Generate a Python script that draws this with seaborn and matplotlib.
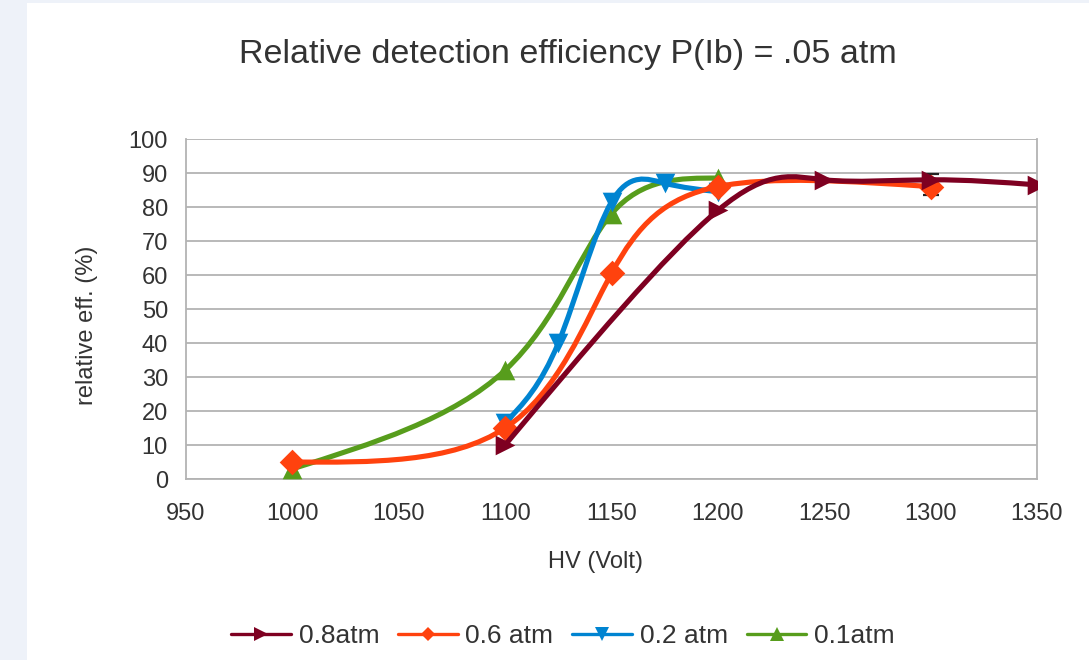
import numpy as np
import pandas as pd
import matplotlib
matplotlib.use("Agg")
import matplotlib.pyplot as plt
import seaborn as sns
from matplotlib.path import Path
from matplotlib.patches import PathPatch, Rectangle
from matplotlib.lines import Line2D

# ---- data ----
hv_08 = [1100, 1200, 1250, 1300, 1350]
eff_08 = [10, 79, 88, 88, 86.5]
hv_06 = [1000, 1100, 1150, 1200, 1300]
eff_06 = [5, 15, 60.5, 86, 86]
hv_02 = [1100, 1125, 1150, 1175, 1200]
eff_02 = [16.5, 40, 81.5, 87, 84.5]
hv_01 = [1000, 1100, 1150, 1200]
eff_01 = [3, 32, 78, 88.5]
err_x = [1300]
err_y = [86.5]
err_v = [3.1]

labels = ["0.8atm", "0.6 atm", "0.2 atm", "0.1atm"]
colors = ["#7E0021", "#FF420E", "#0084D1", "#579D1C"]
markers = [">", "D", "v", "^"]

title = "Relative detection efficiency P(Ib) = .05 atm"
xlabel = "HV (Volt)"
ylabel = "relative eff. (%)"
xticks = [950, 1000, 1050, 1100, 1150, 1200, 1250, 1300, 1350]
yticks = [0, 10, 20, 30, 40, 50, 60, 70, 80, 90, 100]

series = [(hv_08, eff_08), (hv_06, eff_06), (hv_02, eff_02), (hv_01, eff_01)]

sns.set_theme(style="white")
plt.rcParams["font.family"] = ["Liberation Sans", "DejaVu Sans"]
TXT = "#333333"
GRID = "#b3b3b3"


def natural_derivs(t, v):
    n = len(t)
    h = np.diff(t)
    A = np.zeros((n, n))
    b = np.zeros(n)
    A[0, 0] = 1
    A[-1, -1] = 1
    for i in range(1, n - 1):
        A[i, i - 1] = h[i - 1]
        A[i, i] = 2 * (h[i - 1] + h[i])
        A[i, i + 1] = h[i]
        b[i] = 6 * ((v[i + 1] - v[i]) / h[i] - (v[i] - v[i - 1]) / h[i - 1])
    M = np.linalg.solve(A, b)
    dl = np.zeros(n - 1)
    dr = np.zeros(n - 1)
    for i in range(n - 1):
        sl = (v[i + 1] - v[i]) / h[i]
        dl[i] = sl - h[i] * (2 * M[i] + M[i + 1]) / 6
        dr[i] = sl + h[i] * (M[i] + 2 * M[i + 1]) / 6
    return h, dl, dr


def spline_path(x, y):
    # parametric natural cubic spline (uniform parameter), as a Bezier path
    x = np.asarray(x, float)
    y = np.asarray(y, float)
    t = np.arange(len(x), dtype=float)
    h, dxl, dxr = natural_derivs(t, x)
    _, dyl, dyr = natural_derivs(t, y)
    verts = [(x[0], y[0])]
    codes = [Path.MOVETO]
    for i in range(len(x) - 1):
        verts += [(x[i] + h[i] / 3 * dxl[i], y[i] + h[i] / 3 * dyl[i]),
                  (x[i + 1] - h[i] / 3 * dxr[i], y[i + 1] - h[i] / 3 * dyr[i]),
                  (x[i + 1], y[i + 1])]
        codes += [Path.CURVE4] * 3
    return Path(verts, codes)


fig = plt.figure(figsize=(10.89, 6.6), dpi=100)
fig.patch.set_facecolor("white")
fig.patches.append(Rectangle((0, 0), 27 / 1089, 1, transform=fig.transFigure,
                             facecolor="#EEF2F9", edgecolor="none", zorder=0))
fig.patches.append(Rectangle((0, 1 - 3 / 660), 1, 3 / 660, transform=fig.transFigure,
                             facecolor="#EEF2F9", edgecolor="none", zorder=0))

L, R, T, B = 186, 1037, 139, 479
ax = fig.add_axes([L / 1089, 1 - B / 660, (R - L) / 1089, (B - T) / 660])
ax.set_facecolor("white")

# draw in reverse (0.1 bottom, 0.8 top)
for k in [3, 2, 1, 0]:
    xs, ys = series[k]
    z = 3 + (3 - k) * 2
    ax.add_patch(PathPatch(spline_path(xs, ys), fill=False, edgecolor=colors[k],
                           lw=3.7, zorder=z, capstyle="round", joinstyle="round"))
    df = pd.DataFrame({"hv": xs, "eff": ys})
    ms = 200 if markers[k] != "D" else 170
    sns.scatterplot(data=df, x="hv", y="eff", marker=markers[k], s=ms,
                    color=colors[k], linewidth=0, ax=ax, zorder=z + 1, legend=False)

eb = ax.errorbar(err_x, err_y, yerr=err_v, fmt="none", ecolor="#222222", elinewidth=1.2,
                 capsize=5.5, capthick=1.6, zorder=6)
for cl in eb[1]:
    cl.set_color("#8a8a8a")
ax.set_xlim(950, 1350)
ax.set_ylim(0, 100)
ax.set_xticks(xticks)
ax.set_yticks(yticks)
ax.set_xticklabels([str(t) for t in xticks])
ax.set_yticklabels([str(t) for t in yticks])
ax.yaxis.grid(True, color=GRID, lw=1.3, zorder=1)
ax.set_axisbelow(True)
for s in ["left", "right", "bottom"]:
    ax.spines[s].set_visible(True)
    ax.spines[s].set_color(GRID)
    ax.spines[s].set_linewidth(1.3)
ax.spines["top"].set_visible(False)
ax.tick_params(axis="both", direction="out", length=7, width=1.2, color=GRID,
               labelsize=17, labelcolor=TXT)
ax.tick_params(axis="y", pad=6)
ax.tick_params(axis="x", pad=10)
ax.set_xlabel("")
ax.set_ylabel("")

fig.text(596 / 1089, 1 - 562 / 660, xlabel, ha="center", va="center",
         fontsize=17, color=TXT)
fig.text(87 / 1089, 1 - 325 / 660, ylabel, ha="center", va="center",
         fontsize=17, color=TXT, rotation=90)
fig.text(568 / 1089, 1 - 55 / 660, title, ha="center", va="center",
         fontsize=24.5, color=TXT)

handles = [Line2D([0], [0], color=colors[k], lw=2.4, marker=markers[k],
                  markersize=9.5 if markers[k] != "D" else 7.5, markeredgewidth=0)
           for k in range(4)]
fig.legend(handles, labels, loc="center", bbox_to_anchor=(563 / 1089, 1 - 636 / 660),
           ncol=4, frameon=False, fontsize=19, handlelength=2.25, handletextpad=0.3,
           columnspacing=0.72, labelcolor=TXT)

fig.savefig("out.png", dpi=100, facecolor="white")
